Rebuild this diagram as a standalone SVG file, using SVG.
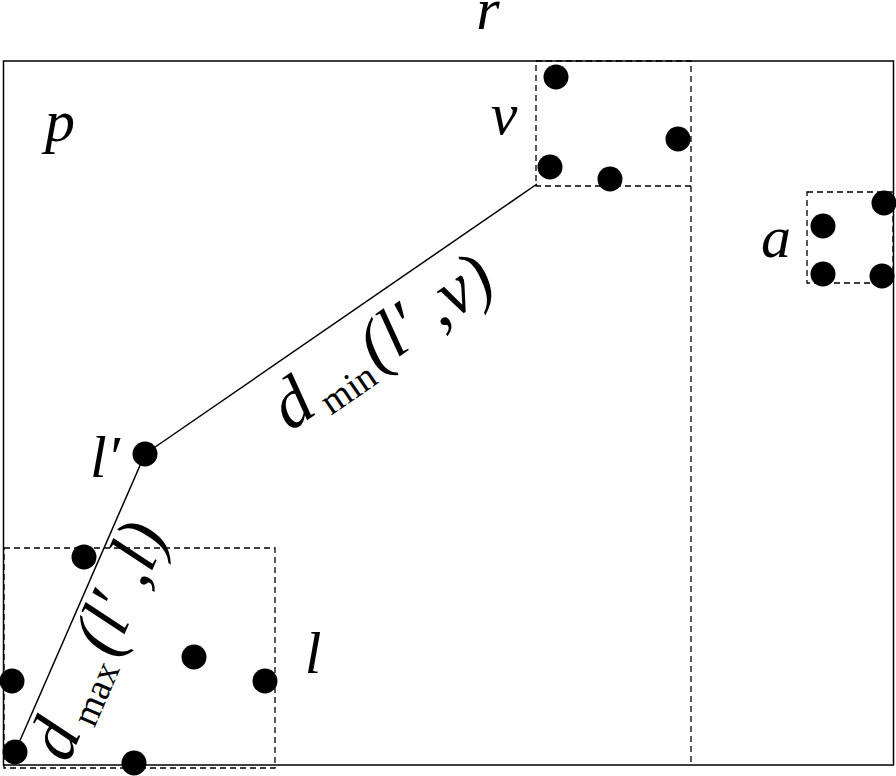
<svg xmlns="http://www.w3.org/2000/svg" width="896" height="776" viewBox="0 0 896 776">
<style>
.frame{fill:none;stroke:#000;stroke-width:1.5}
.dash{fill:none;stroke:#000;stroke-width:1.3;stroke-dasharray:6,4}
.dot{fill:#000}
.lab{font-family:"Liberation Serif","Times New Roman",serif;font-style:italic;fill:#000}
.it{font-style:italic}
.sub{font-style:normal}
.edge{stroke:#000;stroke-width:1.5;fill:none}
</style>
<rect width="896" height="776" fill="#fff"/>
<g id="r">
<rect class="frame" x="3.5" y="61" width="890" height="704"/>
<text class="lab" x="488" y="29" font-size="60" text-anchor="middle">r</text>
<line class="dash" x1="691" y1="186" x2="691" y2="765"/>
</g>
<g id="p"><text class="lab" x="60" y="141" font-size="60" text-anchor="middle">p</text></g>
<g id="v">
<rect class="dash" x="536" y="61" width="155" height="125"/>
<text class="lab" x="504" y="134" font-size="60" text-anchor="middle">v</text>
<circle class="dot" cx="556" cy="77" r="12.5"/>
<circle class="dot" cx="678" cy="139" r="12.5"/>
<circle class="dot" cx="550" cy="167" r="12.5"/>
<circle class="dot" cx="610" cy="179" r="12.5"/>
</g>
<g id="a">
<rect class="dash" x="807" y="192" width="86" height="91"/>
<text class="lab" x="776" y="257" font-size="60" text-anchor="middle">a</text>
<circle class="dot" cx="884" cy="203" r="12.5"/>
<circle class="dot" cx="823" cy="226" r="12.5"/>
<circle class="dot" cx="823" cy="274" r="12.5"/>
<circle class="dot" cx="882" cy="276" r="12.5"/>
</g>
<g id="l">
<rect class="dash" x="4" y="548" width="271" height="220"/>
<text class="lab" x="313" y="673" font-size="60" text-anchor="middle">l</text>
<circle class="dot" cx="84" cy="557" r="12.5"/>
<circle class="dot" cx="194" cy="657" r="12.5"/>
<circle class="dot" cx="12" cy="681" r="12.5"/>
<circle class="dot" cx="265" cy="681" r="12.5"/>
<circle class="dot" cx="15" cy="752" r="12.5"/>
<circle class="dot" cx="134" cy="763" r="12.5"/>
</g>
<g id="lprime">
<text class="lab" x="105" y="477" font-size="60" text-anchor="middle">l′</text>
<circle class="dot" cx="145" cy="454" r="12.5"/>
</g>
<g id="connectors">
<line class="edge" x1="15" y1="752" x2="145" y2="454"/>
<line class="edge" x1="145" y1="454" x2="537" y2="184"/>
<text class="lab" font-size="70" transform="translate(290,432) rotate(-34.6)"><tspan class="it" font-style="italic">d</tspan><tspan class="sub" font-size="38" dx="8" dy="10">min</tspan><tspan class="it" font-style="italic" dx="4" dy="-10">(l′ ,v)</tspan></text>
<text class="lab" font-size="70" transform="translate(68,764) rotate(-66.5)"><tspan class="it" font-style="italic">d</tspan><tspan class="sub" font-size="38" dx="8" dy="10">max</tspan><tspan class="it" font-style="italic" dx="6" dy="-10">(l′ ,l)</tspan></text>
</g>
</svg>
